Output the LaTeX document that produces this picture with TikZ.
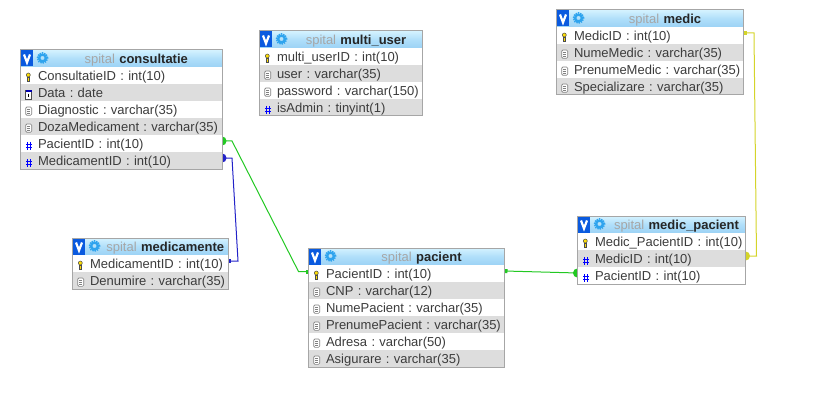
\documentclass[tikz,border=0pt]{standalone}
\usepackage{fontspec}
\setmainfont{Liberation Sans}
\usetikzlibrary{arrows.meta,backgrounds}

\definecolor{rowgray}{HTML}{DDDDDD}
\definecolor{framegray}{HTML}{A6A6A6}
\definecolor{textgray}{HTML}{3C3C3C}
\definecolor{iconblue}{HTML}{0A5ADF}
\definecolor{cogblue}{HTML}{2FA4EE}
\definecolor{headtop}{HTML}{D4F2FF}
\definecolor{headmid}{HTML}{B0DFFA}
\definecolor{headlow}{HTML}{9CD2F5}
\definecolor{linkgreen}{HTML}{22C822}
\definecolor{linkblue}{HTML}{2222C8}
\definecolor{linkyellow}{HTML}{D4D42A}

\tikzset{
  tablew/.style={every node/.append style={text width=#1}},
  iconat/.style={append after command={(\tikzlastnode.west) pic {#1}}},
  headicon/.pic={
    \fill[iconblue] (0.5,-8) rectangle (12.5,8);
    \draw[white, line width=2.2pt] (3.5,-4) -- (6.5,4) -- (9.5,-4);
    \draw[cogblue, line width=2.4pt] (22,-.5) circle (3.4pt);
    \draw[cogblue, line width=1.4pt, densely dotted] (22,-.5) circle (5.2pt);
  },
  keyicon/.pic={
    \draw[black!70, fill=yellow!80!orange, line width=.5pt] (7.8,-.5) circle (2pt);
    \draw[black!70, fill=yellow!80!orange, line width=.5pt] (7.1,1.5) rectangle (8.5,6);
  },
  texticon/.pic={
    \draw[black!50, fill=white, rounded corners=1.2pt, line width=.6pt] (5.2,-2.5) rectangle (11.2,5.8);
    \draw[black!50, line width=.5pt] (6.9,-.5) -- (9.5,-.5) (6.9,1.5) -- (9.5,1.5) (6.9,3.5) -- (9.5,3.5);
  },
  hashicon/.pic={
    \draw[blue, line width=1pt] (7,-1.5) -- (7,6.5) (10,-1.5) -- (10,6.5)
      (5.5,1) -- (11.5,1) (5.5,4) -- (11.5,4);
  },
  dateicon/.pic={
    \draw[black!70, fill=white, line width=.5pt] (5.2,-2.5) rectangle (11.2,6.5);
    \fill[blue!70!black] (5.2,-2.5) rectangle (11.2,0);
    \draw[black, line width=.8pt] (8.2,1.2) -- (8.2,5);
  },
  dbhead/.style={anchor=north west, inner sep=0pt, outer sep=0pt, minimum height=17pt,
    text height=13pt, text depth=3pt, font=\fontsize{13}{15}\selectfont,
    top color=headtop, bottom color=headlow, middle color=headmid,
    execute at begin node={\frenchspacing\hspace*{30pt}\hfill}, execute at end node={\hfill\null},
    iconat=headicon},
  dbrow/.style={fill=white, inner sep=0pt, outer sep=0pt, minimum height=17pt, text height=13pt, text depth=3pt,
    font=\fontsize{13}{15}\selectfont, text=textgray,
    execute at begin node={\frenchspacing\hspace*{17.5pt}}},
  shaded row/.style={fill=rowgray},
  rowkey/.style={dbrow, iconat=keyicon},
  rowtext/.style={dbrow, iconat=texticon},
  rowhash/.style={dbrow, iconat=hashicon},
  rowdate/.style={dbrow, iconat=dateicon},
  dbframe/.style={draw=framegray, line width=1pt},
  linkg/.style={draw=linkgreen, line width=1pt},
  linkb/.style={draw=linkblue, line width=1pt},
  linky/.style={draw=linkyellow, line width=1pt},
  manytip/.style={{Circle[length=9pt,width=9pt]}-{Square[length=3pt,width=4pt]}, shorten <=-4.5pt},
}

\newcommand{\tabletitle}[1]{{\color{black!35}spital} \textbf{\color{black!85}#1}}

\begin{document}
\begin{tikzpicture}[x=1pt, y=-1pt, node distance=17pt]
\useasboundingbox (0,0) rectangle (815,404);

% consultatie
\begin{scope}[tablew=201.5pt]
\node[dbhead] (consultatie) at (20.5,50) {\tabletitle{consultatie}};
\node[rowkey, below of=consultatie] (consId) {ConsultatieID : int(10)};
\node[rowdate, shaded row, below of=consId] (consData) {Data : date};
\node[rowtext, below of=consData] (consDiag) {Diagnostic : varchar(35)};
\node[rowtext, shaded row, below of=consDiag] (consDoza) {DozaMedicament : varchar(35)};
\node[rowhash, below of=consDoza] (consPac) {PacientID : int(10)};
\node[rowhash, shaded row, below of=consPac] (consMed) {MedicamentID : int(10)};
\end{scope}

% multi_user
\begin{scope}[tablew=163pt]
\node[dbhead] (multiuser) at (259.5,31) {\tabletitle{multi\_user}};
\node[rowkey, below of=multiuser] (userId) {multi\_userID : int(10)};
\node[rowtext, shaded row, below of=userId] (userName) {user : varchar(35)};
\node[rowtext, below of=userName] (userPass) {password : varchar(150)};
\node[rowhash, shaded row, below of=userPass] (userAdmin) {isAdmin : tinyint(1)};
\end{scope}

% medic
\begin{scope}[tablew=187pt]
\node[dbhead] (medic) at (556.5,10) {\tabletitle{medic}};
\node[rowkey, below of=medic] (medicId) {MedicID : int(10)};
\node[rowtext, shaded row, below of=medicId] (medicNume) {NumeMedic : varchar(35)};
\node[rowtext, below of=medicNume] (medicPren) {PrenumeMedic : varchar(35)};
\node[rowtext, shaded row, below of=medicPren] (medicSpec) {Specializare : varchar(35)};
\end{scope}

% medicamente
\begin{scope}[tablew=155.5pt]
\node[dbhead] (medicamente) at (72.5,238) {\tabletitle{medicamente}};
\node[rowkey, below of=medicamente] (medtId) {MedicamentID : int(10)};
\node[rowtext, shaded row, below of=medtId] (medtDen) {Denumire : varchar(35)};
\end{scope}

% pacient
\begin{scope}[tablew=196pt]
\node[dbhead] (pacient) at (308.5,248) {\tabletitle{pacient}};
\node[rowkey, below of=pacient] (pacId) {PacientID : int(10)};
\node[rowtext, shaded row, below of=pacId] (pacCnp) {CNP : varchar(12)};
\node[rowtext, below of=pacCnp] (pacNume) {NumePacient : varchar(35)};
\node[rowtext, shaded row, below of=pacNume] (pacPren) {PrenumePacient : varchar(35)};
\node[rowtext, below of=pacPren] (pacAdr) {Adresa : varchar(50)};
\node[rowtext, shaded row, below of=pacAdr] (pacAsig) {Asigurare : varchar(35)};
\end{scope}

% medic_pacient
\begin{scope}[tablew=168pt]
\node[dbhead] (medicpacient) at (577.5,216) {\tabletitle{medic\_pacient}};
\node[rowkey, below of=medicpacient] (mpId) {Medic\_PacientID : int(10)};
\node[rowhash, shaded row, below of=mpId] (mpMedic) {MedicID : int(10)};
\node[rowhash, below of=mpMedic] (mpPac) {PacientID : int(10)};
\end{scope}

% table borders
\draw[dbframe] (consultatie.north west) rectangle (consMed.south east);
\draw[dbframe] (multiuser.north west) rectangle (userAdmin.south east);
\draw[dbframe] (medic.north west) rectangle (medicSpec.south east);
\draw[dbframe] (medicamente.north west) rectangle (medtDen.south east);
\draw[dbframe] (pacient.north west) rectangle (pacAsig.south east);
\draw[dbframe] (medicpacient.north west) rectangle (mpPac.south east);

% relations go under the tables
\begin{pgfonlayer}{background}
\draw[linkg, manytip] ([yshift=2.5pt]consPac.east) -- ++(10,0) -- ([xshift=-10pt,yshift=2pt]pacId.west) -- ([yshift=2pt]pacId.west);
\draw[linkb, manytip] ([yshift=2.5pt]consMed.east) -- ++(10,0) -- ([xshift=10pt,yshift=2.5pt]medtId.east) -- ([yshift=2.5pt]medtId.east);
\draw[linkg, manytip] ([yshift=2.5pt]mpPac.west) -- ([yshift=2.5pt]pacId.east);
\draw[linky, manytip] ([yshift=2.5pt]mpMedic.east) -- ++(11,0) -- ([xshift=10.5pt,yshift=2.5pt]medicId.east) -- ([yshift=2.5pt]medicId.east);
\end{pgfonlayer}

\end{tikzpicture}
\end{document}
